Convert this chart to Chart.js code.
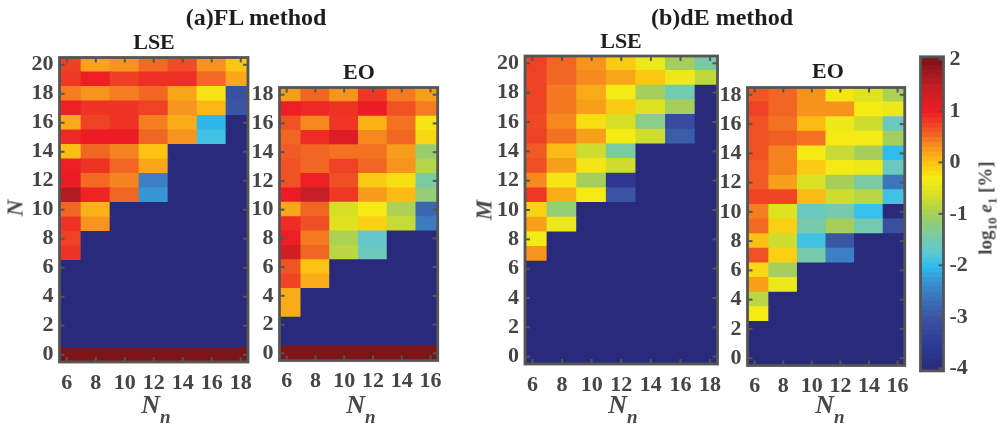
<!DOCTYPE html>
<html>
<head>
<meta charset="utf-8">
<script src="https://cdn.jsdelivr.net/npm/chart.js@4.4.1/dist/chart.umd.min.js"></script>
<style>
  body { margin: 0; background: #fff; }
  #fig { position: relative; width: 997px; height: 427px; overflow: hidden;
         font-family: "Liberation Serif", "Times New Roman", serif; }
  canvas { position: absolute; top: 0; }
  .t { position: absolute; white-space: nowrap; font-weight: bold; line-height: 1; }
  .title { color: #1e1e1e; transform: translateX(-50%); }
  .lab { color: #484848; }
  .sub { position: relative; }
</style>
</head>
<body>
<div id="fig">
  <canvas id="flLse" width="262" height="427" style="left:0px"></canvas>
  <canvas id="flEo" width="205" height="427" style="left:245px"></canvas>
  <canvas id="deLse" width="250" height="427" style="left:480px"></canvas>
  <canvas id="deEo" width="205" height="427" style="left:712px"></canvas>
  <canvas id="cbar" width="85" height="427" style="left:912px"></canvas>

  <div class="t title" style="left:256px;top:5px;font-size:24px">(a)FL method</div>
  <div class="t title" style="left:722px;top:5px;font-size:24px">(b)dE method</div>
  <div class="t title" style="left:154px;top:30.6px;font-size:22px">LSE</div>
  <div class="t title" style="left:359px;top:60.6px;font-size:22px">EO</div>
  <div class="t title" style="left:621px;top:29.6px;font-size:22px">LSE</div>
  <div class="t title" style="left:828px;top:60.1px;font-size:22px">EO</div>

  <div class="t lab" style="left:156px;top:392px;font-size:26px;transform:translateX(-50%)"><i>N</i><i class="sub" style="font-size:19px;top:10px">n</i></div>
  <div class="t lab" style="left:361px;top:392px;font-size:26px;transform:translateX(-50%)"><i>N</i><i class="sub" style="font-size:19px;top:10px">n</i></div>
  <div class="t lab" style="left:623px;top:392px;font-size:26px;transform:translateX(-50%)"><i>N</i><i class="sub" style="font-size:19px;top:10px">n</i></div>
  <div class="t lab" style="left:830px;top:392px;font-size:26px;transform:translateX(-50%)"><i>N</i><i class="sub" style="font-size:19px;top:10px">n</i></div>

  <div class="t lab" style="left:15px;top:208px;font-size:23px;transform:translate(-50%,-50%) rotate(-90deg)"><i>N</i></div>
  <div class="t lab" style="left:484px;top:210px;font-size:23px;transform:translate(-50%,-50%) rotate(-90deg)"><i>M</i></div>
  <div class="t lab" style="left:985px;top:208px;font-size:19px;transform:translate(-50%,-50%) rotate(-90deg)">log<span class="sub" style="font-size:13px;top:5px">10</span> <i>e</i><span class="sub" style="font-size:13px;top:5px">1</span> [%]</div>
</div>

<script>
// ---- data: log10 e1 [%], rows listed from the top row down ----
const nnLSE = [6, 8, 10, 12, 14, 16, 18];
const nnEO = [6, 8, 10, 12, 14, 16];
const rowsLSE = [20, 19, 18, 17, 16, 15, 14, 13, 12, 11, 10, 9, 8, 7, 6, 5, 4, 3, 2, 1, 0];
const rowsEO = [18, 17, 16, 15, 14, 13, 12, 11, 10, 9, 8, 7, 6, 5, 4, 3, 2, 1, 0];
const yTicksLSE = [0, 2, 4, 6, 8, 10, 12, 14, 16, 18, 20];
const yTicksEO = [0, 2, 4, 6, 8, 10, 12, 14, 16, 18];
const cbTicks = [-4, -3, -2, -1, 0, 1, 2];

const flLSE = [
  [0.76, 0.21, 0.30, 0.51, 0.70, 0.31, -0.02],
  [0.82, 0.99, 0.77, 0.87, 0.87, 0.52, 0.17],
  [0.42, 0.30, 0.41, 0.53, 0.19, -0.25, -3.1],
  [0.97, 0.85, 0.85, 0.76, 0.30, 0.07, -3.0],
  [0.15, 0.76, 0.86, 0.41, 0.15, -2.05, -4],
  [0.92, 1.00, 1.00, 0.54, 0.30, -1.9, -4],
  [0.03, 0.54, 0.39, 0.00, -4, -4, -4],
  [0.98, 0.86, 0.54, 0.18, -4, -4, -4],
  [1.00, 0.52, 0.39, -2.5, -4, -4, -4],
  [1.59, 0.95, 0.54, -2.3, -4, -4, -4],
  [0.54, 0.10, -4, -4, -4, -4, -4],
  [0.86, 0.30, -4, -4, -4, -4, -4],
  [0.76, -4, -4, -4, -4, -4, -4],
  [0.86, -4, -4, -4, -4, -4, -4],
  [-4, -4, -4, -4, -4, -4, -4],
  [-4, -4, -4, -4, -4, -4, -4],
  [-4, -4, -4, -4, -4, -4, -4],
  [-4, -4, -4, -4, -4, -4, -4],
  [-4, -4, -4, -4, -4, -4, -4],
  [-4, -4, -4, -4, -4, -4, -4],
  [2, 2, 2, 2, 2, 2, 2]
];

const flEO = [
  [0.25, 0.54, 0.30, 0.82, 0.44, 0.24],
  [0.98, 0.92, 0.86, 1.00, 0.65, 0.42],
  [0.65, 0.36, 0.84, 0.11, 0.48, -0.25],
  [0.54, 0.90, 1.20, 0.36, 0.54, -0.15],
  [0.60, 0.54, 0.48, 0.48, 0.24, -1.1],
  [0.65, 0.54, 0.76, 0.54, 0.30, -0.9],
  [0.65, 0.98, 0.68, -0.05, -0.2, -1.4],
  [1.00, 1.45, 0.82, 0.24, 0.05, -1.15],
  [0.18, 0.54, -0.65, -0.3, -0.95, -2.8],
  [0.90, 0.68, -0.55, -0.1, -0.75, -2.55],
  [0.98, 0.43, -0.95, -1.7, -4, -4],
  [1.30, 0.54, -0.85, -1.6, -4, -4],
  [0.63, 0.00, -4, -4, -4, -4],
  [0.74, 0.15, -4, -4, -4, -4],
  [0.15, -4, -4, -4, -4, -4],
  [0.15, -4, -4, -4, -4, -4],
  [-4, -4, -4, -4, -4, -4],
  [-4, -4, -4, -4, -4, -4],
  [2, 2, 2, 2, 2, 2]
];

const deLSE = [
  [0.76, 0.54, 0.30, -0.05, -0.4, -1.0, -1.45],
  [0.76, 0.54, 0.35, 0.19, -0.03, -0.4, -0.8],
  [0.76, 0.44, 0.16, -0.3, -1.0, -1.5, -4],
  [0.76, 0.44, 0.23, -0.05, -0.55, -1.0, -4],
  [0.72, 0.36, -0.2, -0.65, -1.25, -3.2, -4],
  [0.76, 0.48, 0.23, -0.3, -0.7, -2.9, -4],
  [0.60, 0.06, -0.7, -1.4, -4, -4, -4],
  [0.68, 0.23, -0.25, -0.7, -4, -4, -4],
  [0.36, -0.25, -1.0, -3.6, -4, -4, -4],
  [0.82, 0.15, -0.3, -3.0, -4, -4, -4],
  [-0.12, -1.15, -4, -4, -4, -4, -4],
  [0.23, -0.4, -4, -4, -4, -4, -4],
  [-0.3, -4, -4, -4, -4, -4, -4],
  [0.30, -4, -4, -4, -4, -4, -4],
  [-4, -4, -4, -4, -4, -4, -4],
  [-4, -4, -4, -4, -4, -4, -4],
  [-4, -4, -4, -4, -4, -4, -4],
  [-4, -4, -4, -4, -4, -4, -4],
  [-4, -4, -4, -4, -4, -4, -4],
  [-4, -4, -4, -4, -4, -4, -4],
  [-4, -4, -4, -4, -4, -4, -4]
];

const deEO = [
  [0.63, 0.54, 0.31, -0.25, -0.55, -0.95],
  [0.76, 0.54, 0.31, 0.31, -0.3, -0.4],
  [0.65, 0.48, 0.05, -0.4, -0.7, -1.6],
  [0.65, 0.58, 0.48, -0.3, -0.3, -1.0],
  [0.65, 0.40, -0.3, -0.75, -1.0, -2.0],
  [0.60, 0.40, -0.05, -0.3, -0.4, -1.6],
  [0.60, 0.23, -0.6, -1.0, -1.4, -2.6],
  [0.74, 0.74, 0.06, -0.7, -0.85, -1.9],
  [0.42, -0.55, -1.6, -1.45, -1.95, -4],
  [0.52, -0.1, -1.45, -1.0, -1.5, -3.1],
  [0.02, -0.7, -1.9, -3.0, -4, -4],
  [0.65, -0.1, -1.45, -2.5, -4, -4],
  [-0.15, -1.0, -4, -4, -4, -4],
  [0.23, -0.4, -4, -4, -4, -4],
  [-0.85, -4, -4, -4, -4, -4],
  [-0.3, -4, -4, -4, -4, -4],
  [-4, -4, -4, -4, -4, -4],
  [-4, -4, -4, -4, -4, -4],
  [-4, -4, -4, -4, -4, -4]
];

// colour map
const cmap = [
  [-4.0, [42, 42, 124]], [-3.5, [47, 60, 150]], [-3.0, [58, 85, 164]],
  [-2.4, [60, 135, 202]], [-2.0, [45, 190, 238]], [-1.75, [95, 198, 212]],
  [-1.4, [122, 203, 162]], [-1.0, [165, 207, 90]], [-0.65, [213, 223, 38]],
  [-0.3, [245, 235, 20]], [0.0, [252, 195, 18]], [0.3, [247, 148, 29]],
  [0.6, [241, 90, 36]], [1.0, [237, 28, 36]], [1.5, [192, 30, 38]], [2.0, [125, 20, 22]]
];
function colorOf(v) {
  if (v <= cmap[0][0]) return 'rgb(' + cmap[0][1].join(',') + ')';
  for (let i = 1; i < cmap.length; i++) {
    if (v <= cmap[i][0]) {
      const a = cmap[i - 1], b = cmap[i];
      const t = (v - a[0]) / (b[0] - a[0]);
      const c = a[1].map((q, k) => Math.round(q + (b[1][k] - q) * t));
      return 'rgb(' + c.join(',') + ')';
    }
  }
  return 'rgb(' + cmap[cmap.length - 1][1].join(',') + ')';
}

const tickFont = { family: 'Liberation Serif', size: 22, weight: 'bold' };
const tickColor = '#454545';

// MATLAB style box with inward ticks
const framePlugin = {
  id: 'frame',
  afterDatasetsDraw(chart, args, o) {
    const { ctx, chartArea: a } = chart;
    const tl = 5;
    ctx.save();
    ctx.strokeStyle = '#555';
    ctx.lineWidth = 2;
    const seg = (x1, y1, x2, y2) => { ctx.beginPath(); ctx.moveTo(x1, y1); ctx.lineTo(x2, y2); ctx.stroke(); };
    if (o.xTicks) {
      const s = chart.scales.x;
      s.ticks.forEach(t => {
        const p = s.getPixelForValue(t.value);
        seg(p, a.bottom, p, a.bottom - tl);
        seg(p, a.top, p, a.top + tl);
      });
    }
    const ys = chart.scales.y;
    ys.ticks.forEach(t => {
      const p = ys.getPixelForValue(t.value);
      if (o.leftTicks) seg(a.left, p, a.left + tl, p);
      seg(a.right, p, a.right - tl, p);
    });
    ctx.lineWidth = 2.8;
    ctx.strokeRect(a.left, a.top, a.right - a.left, a.bottom - a.top);
    ctx.restore();
  }
};

function heatmap(id, cols, rows, grid, yTicks, box, diag) {
  const pts = [], colors = [];
  rows.forEach((n, i) => cols.forEach((x, j) => {
    pts.push({ x: x, y: [n - 0.5, n + 0.5] });
    colors.push(colorOf(grid[i][j]));
  }));
  const xMin = cols[0] - 0.5, xMax = cols[cols.length - 1] + 0.5;
  const yMin = rows[rows.length - 1] - 0.5, yMax = rows[0] + 0.5;
  const datasets = [{
    type: 'bar', data: pts, backgroundColor: colors, borderWidth: 0,
    categoryPercentage: 1, barPercentage: 1, inflateAmount: 0.6, clip: 0
  }];
  if (diag) {
    datasets.push({
      type: 'line', data: [{ x: xMin, y: yMin }, { x: xMax, y: yMax }],
      borderColor: 'rgba(255,255,255,0.45)', borderWidth: 0.8, pointRadius: 0, clip: 0
    });
  }
  new Chart(document.getElementById(id), {
    type: 'bar',
    data: { datasets },
    options: {
      responsive: false, animation: false, events: [], devicePixelRatio: 1,
      layout: { padding: { left: 0, right: box.pr, top: box.pt, bottom: box.pb } },
      plugins: { legend: { display: false }, tooltip: { enabled: false },
                 frame: { xTicks: true, leftTicks: true } },
      scales: {
        x: {
          type: 'linear', min: xMin, max: xMax, offset: false,
          grid: { display: false, drawTicks: false }, border: { display: false },
          afterBuildTicks: s => { s.ticks = cols.map(v => ({ value: v })); },
          afterFit: s => { s.height = 40; },
          ticks: { font: tickFont, color: tickColor, padding: 8, maxRotation: 0, autoSkip: false,
                   callback: v => String(v) }
        },
        y: {
          type: 'linear', min: yMin, max: yMax,
          grid: { display: false, drawTicks: false }, border: { display: false },
          afterBuildTicks: s => { s.ticks = yTicks.map(v => ({ value: v })); },
          afterFit: s => { s.width = box.yw; },
          ticks: { font: tickFont, color: tickColor, padding: 6, autoSkip: false,
                   callback: v => String(v) }
        }
      }
    },
    plugins: [framePlugin]
  });
}

heatmap('flLse', nnLSE, rowsLSE, flLSE, yTicksLSE, { yw: 59.5, pr: 14, pt: 57.5, pb: 25 }, true);
heatmap('flEo', nnEO, rowsEO, flEO, yTicksEO, { yw: 34.5, pr: 11, pt: 87.5, pb: 26.5 }, true);
heatmap('deLse', nnLSE, rowsLSE, deLSE, yTicksLSE, { yw: 45, pr: 12.5, pt: 56, pb: 23 }, true);
heatmap('deEo', nnEO, rowsEO, deEO, yTicksEO, { yw: 35.5, pr: 8.5, pt: 87.5, pb: 21.5 }, false);

// colour bar
const cbMin = -4.05, cbMax = 2.05, cbSteps = 64;
const cbPts = [], cbColors = [];
for (let i = 0; i < cbSteps; i++) {
  const lo = -4 + 6 * i / cbSteps, hi = -4 + 6 * (i + 1) / cbSteps;
  cbPts.push({ x: 0, y: [i === 0 ? cbMin : lo, i === cbSteps - 1 ? cbMax : hi] });
  cbColors.push(colorOf((lo + hi) / 2));
}
new Chart(document.getElementById('cbar'), {
  type: 'bar',
  data: { datasets: [
    { type: 'bar', data: cbPts, backgroundColor: cbColors, borderWidth: 0,
      categoryPercentage: 1, barPercentage: 1, inflateAmount: 0.5, clip: 0 },
    { type: 'line', data: [{ x: -0.5, y: cbMin }, { x: 0.5, y: cbMax }],
      borderColor: 'rgba(255,255,255,0.35)', borderWidth: 0.8, pointRadius: 0, clip: 0 }
  ] },
  options: {
    responsive: false, animation: false, events: [], devicePixelRatio: 1,
    layout: { padding: { left: 8.5, right: 0, top: 56.8, bottom: 56.1 } },
    plugins: { legend: { display: false }, tooltip: { enabled: false },
               frame: { xTicks: false, leftTicks: false } },
    scales: {
      x: { type: 'linear', min: -0.5, max: 0.5, offset: false, display: false,
           afterBuildTicks: s => { s.ticks = [{ value: 0 }]; } },
      y: {
        type: 'linear', position: 'right', min: cbMin, max: cbMax,
        grid: { display: false, drawTicks: false }, border: { display: false },
        afterBuildTicks: s => { s.ticks = cbTicks.map(v => ({ value: v })); },
        afterFit: s => { s.width = 53.5; },
        ticks: { font: tickFont, color: tickColor, padding: 6, autoSkip: false,
                 callback: v => String(v) }
      }
    }
  },
  plugins: [framePlugin]
});
</script>
</body>
</html>
